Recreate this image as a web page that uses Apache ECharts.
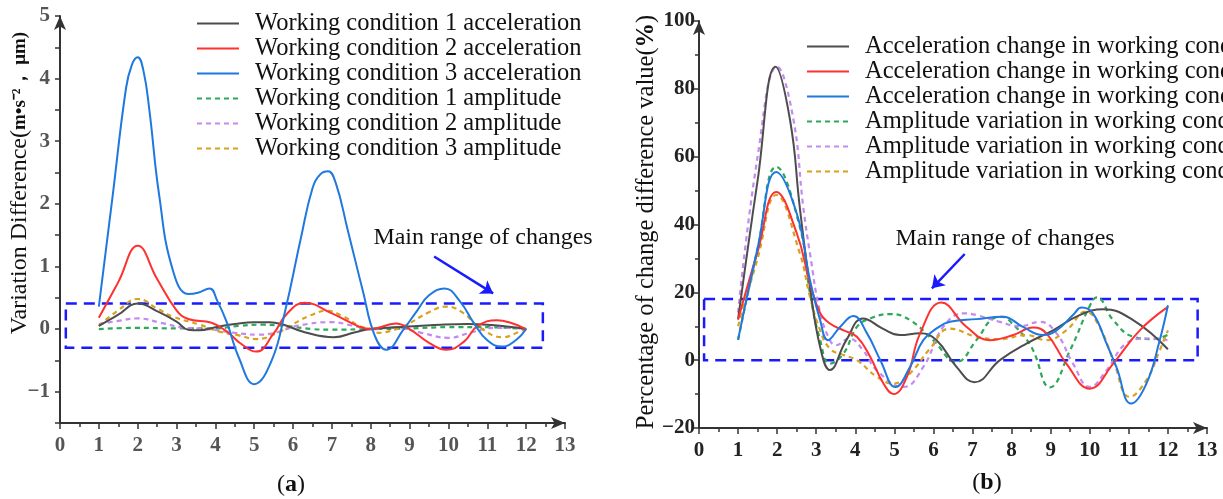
<!DOCTYPE html>
<html><head><meta charset="utf-8">
<script src="https://cdn.jsdelivr.net/npm/echarts@6/dist/echarts.min.js"></script>
<style>html,body{margin:0;padding:0;background:#fff}#c{width:1223px;height:499px}</style>
</head><body><div id="c"></div>
<script>
// ---------- names ----------
const leftNames = ['Working condition 1 acceleration','Working condition 2 acceleration','Working condition 3 acceleration',
  'Working condition 1 amplitude','Working condition 2 amplitude','Working condition 3 amplitude'];
const rightNames = ['Acceleration change in working condition 1','Acceleration change in working condition 2','Acceleration change in working condition 3',
  'Amplitude variation in working condition 1','Amplitude variation in working condition 2','Amplitude variation in working condition 3'];

// ---------- panel (a): variation difference ----------
const wc1Acc = [[1,0.05],[1.5,0.23],[2,0.41],[2.55,0.27],[3.0,0.12],[3.3,-0.01],[3.6,-0.02],[4.0,0.03],[4.5,0.08],[5.0,0.11],[5.4,0.11],[5.7,0.08],[6.3,-0.05],[7.05,-0.13],[7.6,-0.05],[8,0],[8.6,0.03],[9.2,0.05],[9.8,0.07],[10.5,0.08],[11.0,0.07],[11.5,0.04],[12,0]];
const wc2Acc = [[1,0.18],[1.5,0.75],[2,1.33],[2.5,0.8],[3.0,0.3],[3.3,0.16],[3.9,0.1],[4.3,-0.04],[4.65,-0.23],[5.05,-0.36],[5.5,-0.07],[5.85,0.25],[6.3,0.42],[7.0,0.25],[7.7,0.04],[8,0],[8.65,0.09],[9.0,0],[9.5,-0.22],[9.95,-0.33],[10.4,-0.2],[10.75,0.05],[11.25,0.14],[11.6,0.1],[12,0]];
const wc3Acc = [[1,0.36],[1.35,2.1],[1.7,3.85],[1.85,4.22],[2,4.34],[2.15,4.12],[2.3,3.5],[2.55,2.15],[2.9,0.95],[3.3,0.56],[3.55,0.58],[3.85,0.65],[4.05,0.45],[4.3,0.1],[4.6,-0.45],[5.0,-0.88],[5.45,-0.5],[5.8,0.3],[6.2,1.45],[6.5,2.25],[6.7,2.47],[6.9,2.52],[7.1,2.33],[7.4,1.6],[7.8,0.6],[8.1,-0.1],[8.4,-0.33],[8.85,0],[9.2,0.3],[9.5,0.54],[9.9,0.65],[10.3,0.44],[10.65,0.1],[11.0,-0.18],[11.37,-0.28],[11.75,-0.17],[12,0]];
const wc1Amp = [[1,0],[2,0.02],[3,0.01],[4,0.01],[4.6,0.05],[5.2,0.07],[5.8,0.05],[6.5,0.0],[7,-0.01],[8,0],[9,0.01],[10,0.03],[11,0.03],[12,0]];
const wc2Amp = [[1,0.08],[1.5,0.13],[2,0.17],[2.6,0.1],[3.2,0.02],[3.8,0.0],[4.5,-0.06],[5.1,-0.09],[5.6,-0.05],[6.1,0.05],[7,0.11],[7.5,0.06],[8,0],[8.6,0.02],[9.3,-0.06],[10,-0.14],[10.6,-0.05],[11.2,0.02],[11.6,0.02],[12,0]];
const wc3Amp = [[1,0.05],[1.5,0.3],[2,0.48],[2.5,0.33],[2.9,0.2],[3.6,0.07],[4.1,-0.04],[4.6,-0.1],[5.05,-0.16],[5.6,-0.06],[6,0.08],[6.45,0.22],[6.85,0.29],[7.3,0.2],[7.7,0.05],[8,0],[8.2,-0.06],[8.5,-0.03],[8.9,0.06],[9.5,0.27],[9.95,0.36],[10.4,0.25],[10.75,0.05],[11.4,-0.13],[11.8,-0.05],[12,0]];

// ---------- panel (b): percentage of change difference ----------
const acc1Pct = [[1,12],[1.5,53],[1.96,86.5],[2.33,70.8],[2.58,45],[2.84,21.6],[3.1,3.9],[3.35,-2.9],[3.77,5.9],[4.2,12.3],[4.7,9.3],[5.14,7.4],[5.66,7.9],[6.08,5.9],[6.59,-2],[7.05,-6.5],[7.7,0],[8.38,4.9],[9.06,8.8],[9.74,13.3],[10.34,15],[11.11,11.8],[12,3.2]];
const acc2Pct = [[1,12],[1.5,32],[1.98,49.6],[2.5,37.5],[2.84,22.7],[3.1,13.9],[3.35,10.8],[3.7,8.8],[4.04,6.9],[4.38,1.0],[4.72,-6.9],[4.98,-10],[5.32,-4.9],[5.66,7.9],[6.2,17],[6.85,9.8],[7.44,5.9],[8.04,7.4],[8.55,9.6],[8.89,7.9],[9.4,-1],[10.0,-8.4],[10.6,-1],[11.28,8.8],[12,15.7]];
const acc3Pct = [[1,6],[1.5,33],[1.98,55.5],[2.5,43.3],[2.84,23.6],[3.1,11.8],[3.3,5.9],[3.61,9.8],[3.95,13],[4.3,7.9],[4.64,0],[5.03,-7.9],[5.4,-2],[5.74,5.9],[6.1,9.5],[6.42,11.3],[7.1,12.1],[7.78,12.8],[8.29,9.8],[8.8,7.4],[9.15,8.8],[9.57,13.3],[9.79,15.5],[10.08,13.8],[10.43,4.9],[10.68,-2],[11.06,-12.8],[11.45,-6.9],[11.79,5.9],[12,16.2]];
const amp1Pct = [[1,6],[1.5,33],[1.98,57],[2.58,39.3],[2.84,19.7],[3.1,5.9],[3.35,-1],[3.7,2],[4.04,9.8],[4.38,12.3],[4.9,13.6],[5.4,11.8],[5.99,5.9],[6.59,-0.5],[7.1,5.9],[7.53,12.3],[7.75,12.8],[8.0,11],[8.5,4],[8.98,-8],[9.5,3],[10.0,16],[10.18,18.5],[10.6,11.8],[11.11,6.9],[11.62,6.2],[12,7.5]];
const amp2Pct = [[1,14],[1.5,60],[2.0,86.5],[2.4,72],[2.67,45],[2.84,31.5],[3.1,14],[3.35,5.9],[3.5,4.4],[3.84,6.4],[4.2,2.9],[4.55,-3],[5.23,-7.9],[5.74,-2],[6.25,9.8],[6.77,13.8],[7.1,13.3],[7.7,11.3],[8.2,10],[8.72,11.3],[9.15,7.9],[9.57,-1],[10.0,-7.9],[10.43,-3],[10.93,4.9],[11.45,6.4],[12,5.9]];
const amp3Pct = [[1,10],[1.5,30],[1.98,48.7],[2.58,31.5],[2.84,18.7],[3.1,8.8],[3.35,3.4],[3.7,1.5],[4.04,0],[4.55,-4.9],[4.98,-6.9],[5.4,-3.9],[5.91,3.4],[6.42,9.3],[7.1,6.9],[7.7,6.2],[8.38,7.4],[8.89,5.9],[9.4,8.8],[9.9,14.3],[10.25,9.8],[10.6,0],[11.02,-10.8],[11.45,-5.9],[11.79,2.9],[12,8.8]];

// ---------- annotations (data coordinates) ----------
const leftBox = [[0.15,0.41],[12.43,-0.30]];
const leftArrow = [[9.63,1.16],[11.15,0.57]];
const rightBox = [[0.13,18],[12.76,0]];
const rightArrow = [[6.8,31.3],[5.96,21.2]];

const colors = ['#4d4d4d','#ff3030','#1f78e0','#2ea85a','#c58af0','#d9a21e'];
const FONT = '"Liberation Serif", "Times New Roman", serif';
const BLUE = '#1a1aff';

function mk(name, data, idx, grid, extra) {
  const dashed = idx >= 3;
  return Object.assign({
    name, type:'line', xAxisIndex:grid, yAxisIndex:grid, data, smooth:0.45,
    symbol:'none', showSymbol:false,
    lineStyle:{color:colors[idx], width: dashed?2.2:2, type: dashed?[5,4]:'solid'},
    itemStyle:{color:colors[idx]}, z: dashed?3:4
  }, extra || {});
}
function boxAndArrow(box, arrow) {
  return {
    markArea:{silent:true, itemStyle:{color:'rgba(0,0,0,0)', borderColor:BLUE, borderWidth:2.5, borderType:[11,7]},
      data:[[{coord:box[0]},{coord:box[1]}]]},
    markLine:{silent:true, symbol:['none','arrow'], symbolSize:12, animation:false,
      lineStyle:{color:BLUE, width:2.5, type:'solid'}, label:{show:false},
      data:[[{coord:arrow[0]},{coord:arrow[1]}]]}
  };
}
const neg = v => (v < 0 ? '\u2212' + Math.abs(v) : String(v));

function xAx(grid, color) {
  return {type:'value', gridIndex:grid, min:0, max:13, interval:1,
    axisLine:{show:true, lineStyle:{color:'#333', width:2}, symbol:['none','arrow'], symbolSize:[9,14], onZero:false},
    axisTick:{show:true, inside:false, length:6, lineStyle:{color:'#333', width:1.5}},
    minorTick:{show:true, splitNumber:2, length:4, lineStyle:{color:'#333', width:1.5}},
    splitLine:{show:false},
    axisLabel:{fontFamily:FONT, fontSize:21, fontWeight:'bold', color:color, margin:12}};
}

const legendBase = {orient:'vertical', itemWidth:42, itemHeight:14, itemGap:0, padding:0,
  itemStyle:{opacity:0, borderWidth:0},
  textStyle:{fontFamily:FONT, fontSize:24.5, color:'#111', lineHeight:24, padding:[0,0,0,11]}, selectedMode:false};

const option = {
  animation:false,
  backgroundColor:'#fff',
  grid:[
    {left:60, top:16, width:505, height:407, containLabel:false},
    {left:699, top:21, width:508, height:407, containLabel:false}
  ],
  xAxis:[xAx(0,'#555'), xAx(1,'#222')],
  yAxis:[
    {type:'value', gridIndex:0, min:-1.5, max:5, interval:0.5,
      axisLine:{show:true, lineStyle:{color:'#333', width:2}, symbol:['none','arrow'], symbolSize:[9,14], onZero:false},
      axisTick:{show:true, length:5, lineStyle:{color:'#333', width:1.5}},
      splitLine:{show:false},
      axisLabel:{fontFamily:FONT, fontSize:21, fontWeight:'bold', color:'#555', margin:10,
        formatter:v => (Math.abs(v - Math.round(v)) < 1e-9 && v > -1.5 ? neg(Math.round(v)) : '')}},
    {type:'value', gridIndex:1, min:-20, max:100, interval:20,
      axisLine:{show:true, lineStyle:{color:'#333', width:2}, symbol:['none','arrow'], symbolSize:[9,14], onZero:false},
      axisTick:{show:true, length:6, lineStyle:{color:'#333', width:1.5}},
      minorTick:{show:true, splitNumber:2, length:4, lineStyle:{color:'#333', width:1.5}},
      splitLine:{show:false},
      axisLabel:{fontFamily:FONT, fontSize:21, fontWeight:'bold', color:'#222', margin:4, formatter:neg}}
  ],
  legend:[
    Object.assign({}, legendBase, {data:leftNames, left:196, top:11}),
    Object.assign({}, legendBase, {data:rightNames, left:806, top:34})
  ],
  series:[
    mk(leftNames[0], wc1Acc, 0, 0, boxAndArrow(leftBox, leftArrow)),
    mk(leftNames[1], wc2Acc, 1, 0),
    mk(leftNames[2], wc3Acc, 2, 0),
    mk(leftNames[3], wc1Amp, 3, 0),
    mk(leftNames[4], wc2Amp, 4, 0),
    mk(leftNames[5], wc3Amp, 5, 0),
    mk(rightNames[0], acc1Pct, 0, 1, boxAndArrow(rightBox, rightArrow)),
    mk(rightNames[1], acc2Pct, 1, 1),
    mk(rightNames[2], acc3Pct, 2, 1),
    mk(rightNames[3], amp1Pct, 3, 1),
    mk(rightNames[4], amp2Pct, 4, 1),
    mk(rightNames[5], amp3Pct, 5, 1)
  ],
  graphic:[
    {type:'text', x:20, y:183, rotation:Math.PI/2,
      style:{text:'{a|Variation Difference(}{b|m\u2022s\u207B\u00B2\uFF0C \u03BCm)}', align:'center', verticalAlign:'middle',
        textAlign:'center', textVerticalAlign:'middle',
        rich:{a:{fontFamily:FONT, fontSize:24, fill:'#111', color:'#111'}, b:{fontFamily:FONT, fontSize:19, fontWeight:'bold', fill:'#111', color:'#111'}}}},
    {type:'text', x:647, y:222, rotation:Math.PI/2,
      style:{text:'{a|Percentage of change difference value(}{b|%}{a|)}', align:'center', verticalAlign:'middle',
        textAlign:'center', textVerticalAlign:'middle',
        rich:{a:{fontFamily:FONT, fontSize:24.5, fill:'#111', color:'#111'}, b:{fontFamily:FONT, fontSize:24.5, fontWeight:'bold', fill:'#111', color:'#111'}}}},
    {type:'text', x:483, y:238,
      style:{text:'Main range of changes', font:'24px '+FONT, fill:'#111', align:'center', verticalAlign:'middle', textAlign:'center', textVerticalAlign:'middle'}},
    {type:'text', x:1005, y:239,
      style:{text:'Main range of changes', font:'24px '+FONT, fill:'#111', align:'center', verticalAlign:'middle', textAlign:'center', textVerticalAlign:'middle'}},
    {type:'text', x:291, y:485,
      style:{text:'{a|(}{b|a}{a|)}', align:'center', verticalAlign:'middle', textAlign:'center', textVerticalAlign:'middle',
        rich:{a:{fontFamily:FONT, fontSize:24, fill:'#111', color:'#111'}, b:{fontFamily:FONT, fontSize:24, fontWeight:'bold', fill:'#111', color:'#111'}}}},
    {type:'text', x:987, y:483,
      style:{text:'{a|(}{b|b}{a|)}', align:'center', verticalAlign:'middle', textAlign:'center', textVerticalAlign:'middle',
        rich:{a:{fontFamily:FONT, fontSize:24, fill:'#111', color:'#111'}, b:{fontFamily:FONT, fontSize:24, fontWeight:'bold', fill:'#111', color:'#111'}}}}
  ]
};
const chart = echarts.init(document.getElementById('c'), null, {renderer:'canvas'});
chart.setOption(option);
</script></body></html>
